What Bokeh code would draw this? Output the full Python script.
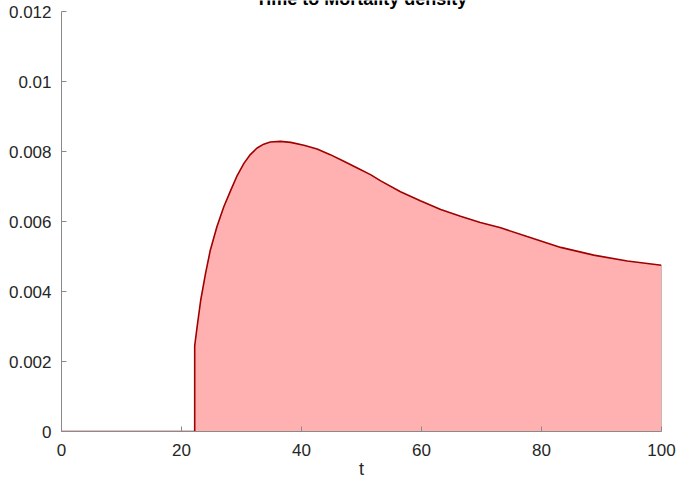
from bokeh.plotting import figure
from bokeh.models import Range1d, FixedTicker, Label
from bokeh.embed import file_html
from bokeh.resources import INLINE

title_text = "Time to Mortality density"
x_label = "t"

# density curve
t = [0, 22.2, 22.2, 22.6, 23.2, 24.0, 24.8, 25.9, 27.05, 28.2, 29.3, 30.4, 31.5,
     32.6, 33.7, 34.8, 36.5, 38.2, 40.4, 42.6, 44.8, 47.05, 49.3, 51.5, 53.2,
     56.5, 59.8, 63.2, 66.5, 69.8, 73.2, 77.6, 83.2, 88.7, 94.3, 100]
density = [0, 0, 0.00245, 0.00299, 0.00375, 0.00451, 0.00518, 0.00585, 0.00642,
           0.00689, 0.00732, 0.00766, 0.00792, 0.00810, 0.00821, 0.00827, 0.00829,
           0.00826, 0.00818, 0.00807, 0.00791, 0.00772, 0.00753, 0.00734, 0.00716,
           0.00685, 0.00659, 0.00634, 0.00615, 0.00597, 0.00582, 0.00557, 0.00526,
           0.00504, 0.00487, 0.00475]

x_ticks = [0, 20, 40, 60, 80, 100]
y_ticks = [0, 0.002, 0.004, 0.006, 0.008, 0.01, 0.012]
y_tick_labels = ["0", "0.002", "0.004", "0.006", "0.008", "0.01", "0.012"]

FONT = "Liberation Sans"
AXIS = "#8a8a8a"
TEXT = "#262626"
AX_H = 420          # pixel height of the 0..0.012 axis
TOP_PAD = 11        # space above the axis top, kept inside the frame for the title
PX = (y_ticks[-1] - y_ticks[0]) / AX_H  # data units per pixel

p = figure(frame_width=600, frame_height=AX_H + TOP_PAD, output_backend="svg",
           toolbar_location=None,
           x_range=Range1d(x_ticks[0], x_ticks[-1]),
           y_range=Range1d(y_ticks[0], y_ticks[-1] + TOP_PAD * PX),
           min_border_left=61, min_border_right=21, min_border_top=0, min_border_bottom=53)
p.outline_line_color = None
p.grid.visible = False
p.background_fill_color = "white"
p.border_fill_color = "white"

p.varea(x=t, y1=0, y2=density, fill_color="#FFB0B0", fill_alpha=1.0)
p.segment(x0=[t[-1]], y0=[0], x1=[t[-1]], y1=[density[-1]], line_color="#8c8c8c", line_width=1)
p.line(t, density, line_color="#A00000", line_width=1.6)

for ax in (p.xaxis[0], p.yaxis[0]):
    ax.axis_line_color = AXIS
    ax.axis_line_width = 1
    ax.major_tick_line_color = AXIS
    ax.major_tick_in = 5
    ax.major_tick_out = 0
    ax.minor_tick_line_color = None
    ax.major_label_text_font = FONT
    ax.major_label_text_font_size = "17px"
    ax.major_label_text_color = TEXT

p.xaxis[0].ticker = FixedTicker(ticks=x_ticks)
p.xaxis[0].major_label_standoff = 12
p.xaxis[0].axis_label = x_label
p.xaxis[0].axis_label_text_font = FONT
p.xaxis[0].axis_label_text_font_size = "18px"
p.xaxis[0].axis_label_text_font_style = "normal"
p.xaxis[0].axis_label_text_color = TEXT
p.xaxis[0].axis_label_standoff = 0

p.yaxis[0].ticker = FixedTicker(ticks=y_ticks)
p.yaxis[0].bounds = (y_ticks[0], y_ticks[-1])
p.yaxis[0].major_label_overrides = {v: s for v, s in zip(y_ticks, y_tick_labels)}
p.yaxis[0].major_label_standoff = 10

# chart title, mostly above the top edge as in the original
p.add_layout(Label(x=(x_ticks[0] + x_ticks[-1]) / 2, y=y_ticks[-1] + 13 * PX, text=title_text,
                   text_align="center", text_baseline="alphabetic", text_font=FONT,
                   text_font_size="18px", text_font_style="bold", text_color="#000000"))

open("out.html", "w").write(file_html(p, INLINE))
